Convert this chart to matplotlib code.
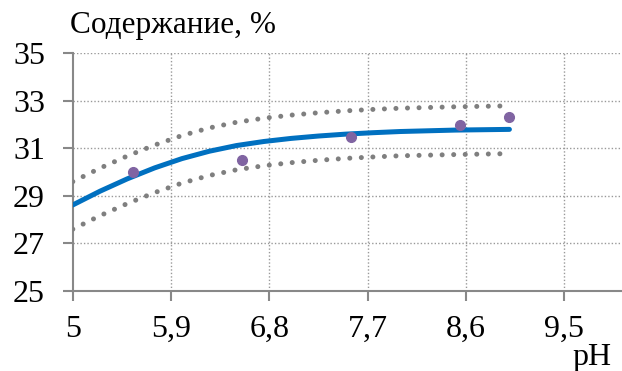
import matplotlib.pyplot as plt

# measured points
ph_points = [5.55, 6.55, 7.55, 8.55, 9.0]
content_points = [30.0, 30.5, 31.5, 32.0, 32.3]

# fitted curve and its band
ph_curve = [5.0, 5.25, 5.5, 5.75, 6.0, 6.25, 6.5, 6.75, 7.0, 7.25, 7.5, 7.75, 8.0, 8.5, 9.0]
fit = [28.62, 29.2, 29.72, 30.18, 30.57, 30.88, 31.12, 31.29, 31.42, 31.52, 31.6, 31.66,
       31.71, 31.77, 31.8]
upper = [29.6, 30.17, 30.68, 31.14, 31.54, 31.86, 32.1, 32.27, 32.4, 32.5, 32.58, 32.64,
         32.69, 32.75, 32.79]
lower = [27.6, 28.17, 28.68, 29.14, 29.54, 29.86, 30.1, 30.27, 30.4, 30.5, 30.58, 30.64,
         30.69, 30.74, 30.78]

x_ticks = [5, 5.9, 6.8, 7.7, 8.6, 9.5]
x_labels = ['5', '5,9', '6,8', '7,7', '8,6', '9,5']
y_ticks = [25, 27, 29, 31, 33, 35]

plt.rcParams['font.family'] = ['Liberation Serif', 'DejaVu Serif']

fig = plt.figure(figsize=(6.22, 3.71), dpi=100)
ax = fig.add_axes([0.117, 0.2156, 0.881, 0.6407])

grid_style = dict(color='#999999', linewidth=1.0, linestyle=(0, (1, 1.5)))
for t in x_ticks[1:]:
    ax.axvline(t, zorder=0, **grid_style)
for t in y_ticks[1:]:
    ax.axhline(t, zorder=0, **grid_style)

dot_style = dict(color='#7f7f7f', linewidth=3.6, linestyle=(0, (0.01, 2.3)),
                 dash_capstyle='round')
ax.plot(ph_curve, upper, **dot_style)
ax.plot(ph_curve, lower, **dot_style)
ax.plot(ph_curve, fit, color='#0070C0', linewidth=3.6, solid_capstyle='round',
        solid_joinstyle='round')
ax.plot(ph_points, content_points, 'o', color='#8064A2', markersize=7, zorder=5)

ax.set_xlim(5, 10.02)
ax.set_ylim(25, 35)
ax.set_xticks(x_ticks)
ax.set_xticklabels(x_labels)
ax.set_yticks(y_ticks)

for side in ['top', 'right']:
    ax.spines[side].set_visible(False)
for side in ['left', 'bottom']:
    ax.spines[side].set_color('#888888')
    ax.spines[side].set_linewidth(1.5)
ax.spines['left'].set_zorder(1)

ax.tick_params(axis='both', colors='#888888', width=1.5, length=7, labelsize=23,
               labelcolor='black')
ax.tick_params(axis='x', pad=10)
ax.tick_params(axis='y', pad=13)

fig.text(0.113, 0.911, 'Содержание, %', fontsize=22.5, ha='left', va='baseline')
fig.text(0.92, 0.016, 'pH', fontsize=23, ha='left', va='baseline')

fig.savefig('out.png', dpi=100)
